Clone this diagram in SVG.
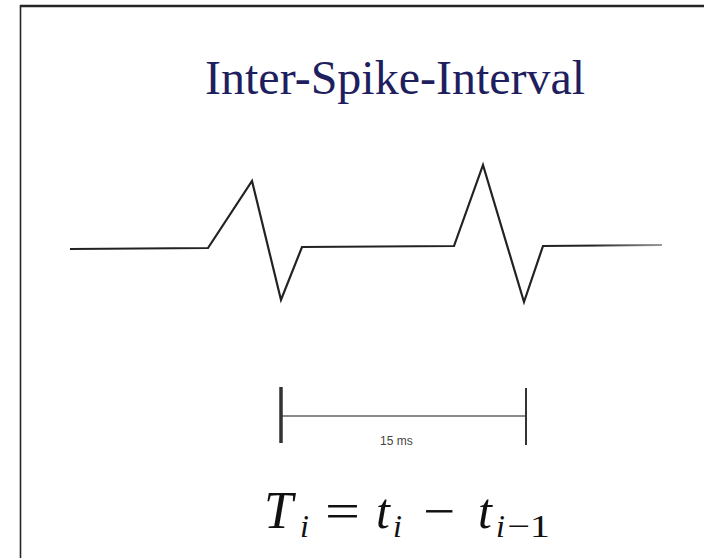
<svg xmlns="http://www.w3.org/2000/svg" width="704" height="558" viewBox="0 0 704 558">
  <defs>
    <linearGradient id="fade" gradientUnits="userSpaceOnUse" x1="0" y1="0" x2="704" y2="0">
      <stop offset="0" stop-color="#222"/>
      <stop offset="0.84" stop-color="#222"/>
      <stop offset="0.94" stop-color="#9a9a9a"/>
    </linearGradient>
  </defs>
  <style>
    .frame { stroke: #262626; fill: none; }
    .title { font-family: "Liberation Serif", "Times New Roman", serif; font-size: 48px; fill: #1f1f5f; }
    .trace { fill: none; stroke: url(#fade); stroke-width: 2.2; stroke-linejoin: miter; }
    .tick { stroke: #333; }
    .bar { stroke: #8a8a8a; stroke-width: 2; }
    .small { font-family: "Liberation Sans", Arial, sans-serif; font-size: 12px; fill: #444; }
    .math { font-family: "Liberation Serif", "Times New Roman", serif; fill: #111; }
    .it { font-style: italic; }
  </style>
  <rect width="704" height="558" fill="#ffffff"/>
  <g id="frame">
    <line class="frame" x1="20" y1="6" x2="704" y2="6" stroke-width="2.5"/>
    <line class="frame" x1="20.5" y1="5" x2="20.5" y2="558" stroke-width="1.6"/>
  </g>
  <g id="title">
    <text class="title" x="205" y="94">Inter-Spike-Interval</text>
  </g>
  <g id="spike-trace">
    <polyline class="trace" points="70,249 208,248 252,181 281,300 302,247 454,246 483,165 524,302 543,246 662,245"/>
  </g>
  <g id="scale-bar">
    <line class="bar" x1="281" y1="416" x2="526" y2="416"/>
    <line class="tick" x1="281" y1="387" x2="281" y2="443" stroke-width="3.5"/>
    <line class="tick" x1="526" y1="388" x2="526" y2="445" stroke-width="2"/>
    <text class="small" x="380" y="445">15 ms</text>
  </g>
  <g id="formula">
    <text class="math it" x="264" y="528" font-size="52">T</text>
    <text class="math it" x="300" y="537" font-size="32">i</text>
    <text class="math" x="325" y="528" font-size="50" textLength="35" lengthAdjust="spacingAndGlyphs">=</text>
    <text class="math it" x="376" y="528" font-size="50">t</text>
    <text class="math it" x="393" y="537" font-size="32">i</text>
    <text class="math" x="423" y="528" font-size="50" textLength="32" lengthAdjust="spacingAndGlyphs">−</text>
    <text class="math it" x="478" y="528" font-size="50">t</text>
    <text class="math it" x="496" y="537" font-size="32">i</text>
    <text class="math" x="507" y="537" font-size="32" textLength="43" lengthAdjust="spacingAndGlyphs">−1</text>
  </g>
</svg>
